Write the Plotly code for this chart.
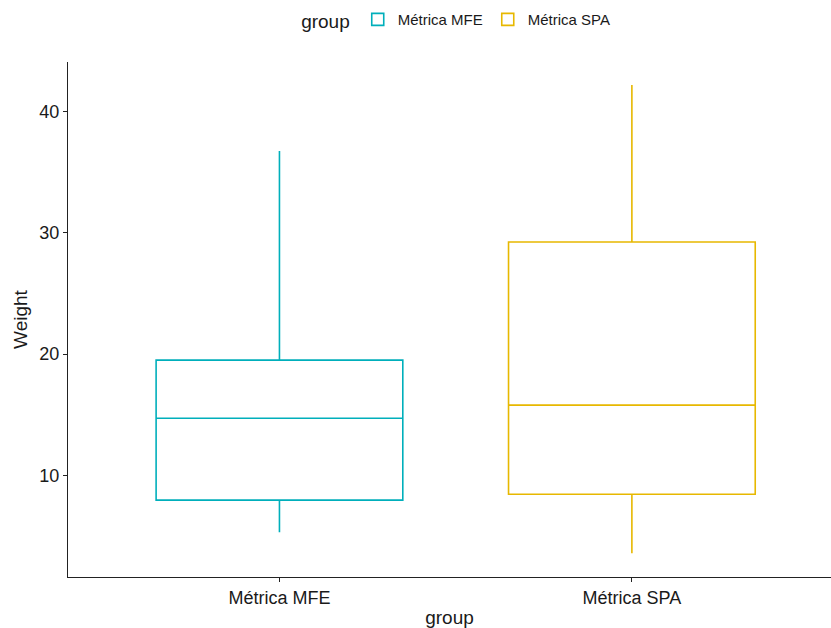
import plotly.graph_objects as go

groups = ["Métrica MFE", "Métrica SPA"]
colors = ["#00AFBB", "#E7B800"]
q1 = [7.94, 8.43]
median = [14.7, 15.78]
q3 = [19.5, 29.24]
lowerfence = [5.3, 3.56]
upperfence = [36.75, 42.2]

fig = go.Figure()
for i, g in enumerate(groups):
    fig.add_trace(go.Box(
        x=[g], q1=[q1[i]], median=[median[i]], q3=[q3[i]],
        lowerfence=[lowerfence[i]], upperfence=[upperfence[i]],
        name=g, line=dict(color=colors[i], width=1.6),
        fillcolor="rgba(255,255,255,0)", width=0.7, whiskerwidth=0,
        boxpoints=False, hoverinfo="skip",
    ))

font = "Liberation Sans, Arial, sans-serif"
fig.update_layout(
    width=831, height=628,
    margin=dict(l=68, r=0, t=62, b=51),
    plot_bgcolor="white", paper_bgcolor="white",
    font=dict(family=font, size=18, color="#1a1a1a"),
    showlegend=True,
    legend=dict(orientation="h", x=0.51, xanchor="center", y=0.995, yanchor="top",
                yref="container", font=dict(size=15),
                title=dict(text="group", font=dict(size=19), side="left")),
    xaxis=dict(type="category", range=[-0.6, 1.565], showline=True, linecolor="#222",
               linewidth=1.3, ticks="outside", ticklen=4, tickcolor="#222",
               showgrid=False, zeroline=False, tickfont=dict(size=18),
               title=dict(text="group", standoff=4, font=dict(size=19))),
    yaxis=dict(range=[1.6, 44.1], showline=True, linecolor="#222", linewidth=1.3,
               ticks="outside", ticklen=4, tickcolor="#222", tickvals=[10, 20, 30, 40],
               showgrid=False, zeroline=False, tickfont=dict(size=18),
               title=dict(text="Weight", standoff=6, font=dict(size=19))),
)
fig.write_html("out.html")
